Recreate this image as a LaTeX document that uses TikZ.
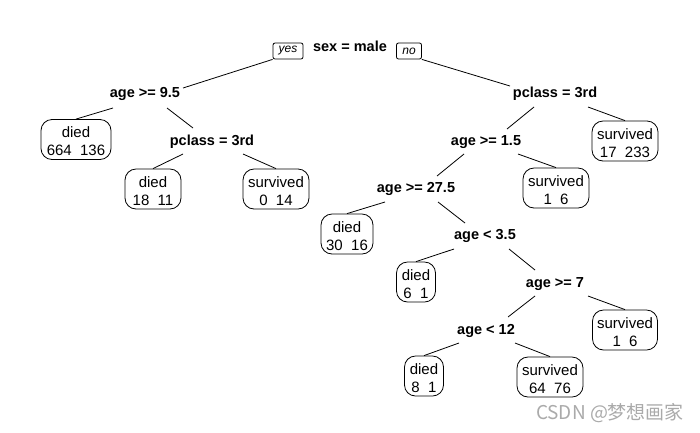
\documentclass[tikz,border=0pt]{standalone}
\usepackage{fontspec}
\setmainfont{Liberation Sans}
\newfontfamily\cjk{Noto Sans CJK SC}
\definecolor{wmgray}{RGB}{170,170,170}
\newcommand{\lf}[2]{\rule{0pt}{15pt}#1\\#2}
\begin{document}
\begin{tikzpicture}[x=1pt,y=-1pt,
  split/.style={font=\fontsize{14.5}{16}\selectfont\bfseries, inner sep=0pt},
  leaf/.style={draw, rounded corners=11pt, align=center, font=\fontsize{15}{18}\selectfont, minimum height=40pt, inner sep=0pt, line width=0.8pt},
  edge/.style={line width=0.8pt},
  tag/.style={draw, rounded corners=2pt, font=\fontsize{12}{12}\selectfont\itshape, minimum height=16pt, inner sep=0pt, line width=0.8pt}]
\fill[white] (0,0) rectangle (700,432);
\useasboundingbox (0,0) rectangle (700,432);
% split labels
\node[split] (root) at (350,46) {sex = male};
\node[tag, minimum width=30pt] (yes) at (288,51) {yes};
\node[tag, minimum width=25pt] (no) at (409,51) {no};
\node[split] (a95) at (145,94) {age >= 9.5};
\node[split] (p3L) at (212,142) {pclass = 3rd};
\node[split] (p3R) at (555,94) {pclass = 3rd};
\node[split] (a15) at (486,142) {age >= 1.5};
\node[split] (a275) at (416,189) {age >= 27.5};
\node[split] (a35) at (485,236) {age < 3.5};
\node[split] (a7) at (555,284) {age >= 7};
\node[split] (a12) at (486,331) {age < 12};
% leaves
\node[leaf, minimum width=70pt] (L1) at (76,139.5) {\lf{died}{664~~136}};
\node[leaf, minimum width=56pt] (L2) at (153,189) {\lf{died}{18~~11}};
\node[leaf, minimum width=66pt] (L3) at (276,189) {\lf{survived}{0~~14}};
\node[leaf, minimum width=66pt] (L4) at (625,141) {\lf{survived}{17~~233}};
\node[leaf, minimum width=66pt] (L5) at (556,188) {\lf{survived}{1~~6}};
\node[leaf, minimum width=52pt] (L6) at (347,234) {\lf{died}{30~~16}};
\node[leaf, minimum width=39pt] (L7) at (416,282) {\lf{died}{6~~1}};
\node[leaf, minimum width=65pt] (L8) at (625,330) {\lf{survived}{1~~6}};
\node[leaf, minimum width=39pt] (L9) at (424,376) {\lf{died}{8~~1}};
\node[leaf, minimum width=66pt] (L10) at (550,377) {\lf{survived}{64~~76}};
% connectors
\draw[edge] (yes.south west) -- ([shift={(38,-6)}]a95.center);
\draw[edge] (no.south east) -- ([shift={(-45,-8)}]p3R.center);
\draw[edge] ([shift={(-32,14)}]a95.center) -- (L1.north);
\draw[edge] ([shift={(22,14)}]a95.center) -- ([shift={(-19,-14)}]p3L.center);
\draw[edge] ([shift={(-29,12)}]p3L.center) -- (L2.north);
\draw[edge] ([shift={(31,12)}]p3L.center) -- (L3.north);
\draw[edge] ([shift={(-21,13)}]p3R.center) -- ([shift={(21,-13)}]a15.center);
\draw[edge] ([shift={(33,13)}]p3R.center) -- (L4.north);
\draw[edge] ([shift={(-22,12)}]a15.center) -- ([shift={(21,-13)}]a275.center);
\draw[edge] ([shift={(32,12)}]a15.center) -- (L5.north);
\draw[edge] ([shift={(-31,13)}]a275.center) -- (L6.north);
\draw[edge] ([shift={(22,13)}]a275.center) -- ([shift={(-20,-13)}]a35.center);
\draw[edge] ([shift={(-31,13)}]a35.center) -- (L7.north);
\draw[edge] ([shift={(24,13)}]a35.center) -- ([shift={(-20,-14)}]a7.center);
\draw[edge] ([shift={(-20,12)}]a7.center) -- ([shift={(22,-14)}]a12.center);
\draw[edge] ([shift={(33,12)}]a7.center) -- (L8.north);
\draw[edge] ([shift={(-27,12)}]a12.center) -- (L9.north);
\draw[edge] ([shift={(29,12)}]a12.center) -- (L10.north);
% watermark
\node[text=wmgray, font=\cjk\fontsize{19}{21}\selectfont, inner sep=0pt] (wm) at (610,413) {CSDN @梦想画家};
\end{tikzpicture}
\end{document}
